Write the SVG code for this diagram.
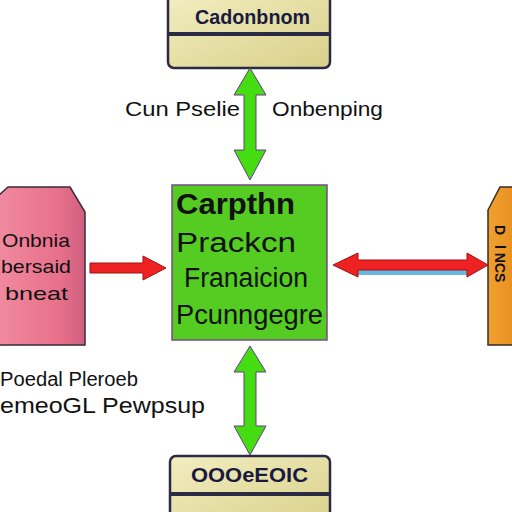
<svg xmlns="http://www.w3.org/2000/svg" width="512" height="512" viewBox="0 0 512 512">
<defs>
<linearGradient id="khaki" x1="0" y1="0" x2="1" y2="1">
<stop offset="0" stop-color="#f2eec0"/><stop offset="1" stop-color="#d8d08a"/>
</linearGradient>
<linearGradient id="pink" x1="0" y1="0" x2="1" y2="0">
<stop offset="0" stop-color="#f08aa0"/><stop offset="0.7" stop-color="#e8708a"/><stop offset="1" stop-color="#d06080"/>
</linearGradient>
<linearGradient id="orange" x1="0" y1="0" x2="1" y2="0">
<stop offset="0" stop-color="#f0a030"/><stop offset="1" stop-color="#e89020"/>
</linearGradient>
</defs>
<style>
text{font-family:"Liberation Sans",Arial,sans-serif;fill:#111}
.hdr{font-size:21px;fill:#1a1a40;font-weight:bold}
.lbl{font-size:20px}
.c1{font-size:29px;font-weight:bold}
.c2{font-size:27px}
.side{font-size:19px}
.khaki{fill:url(#khaki);stroke:#2a2a45;stroke-width:2.5}
.garrow{fill:#44dd11;stroke:#6a3a8a;stroke-width:1}
.rarrow{fill:#ee2222;stroke:#a01010;stroke-width:1}
</style>
<rect width="512" height="512" fill="#ffffff"/>

<g id="node-top">
<rect class="khaki" x="168" y="-6" width="162" height="74" rx="6"/>
<line x1="168" y1="34" x2="330" y2="34" stroke="#2a2a45" stroke-width="4"/>
<text class="hdr" x="195" y="24" textLength="115" lengthAdjust="spacingAndGlyphs">Cadonbnom</text>
</g>

<g id="node-center">
<rect x="172" y="185" width="155" height="155" fill="#55cc22" stroke="#7a4a8a" stroke-width="1.5"/>
<text class="c1" x="176" y="214" textLength="119" lengthAdjust="spacingAndGlyphs">Carpthn</text>
<text class="c2" x="176" y="252" textLength="120" lengthAdjust="spacingAndGlyphs">Prackcn</text>
<text class="c2" x="184" y="287" textLength="124" lengthAdjust="spacingAndGlyphs">Franaicion</text>
<text class="c2" x="176" y="324" textLength="147" lengthAdjust="spacingAndGlyphs">Pcunngegre</text>
</g>

<g id="node-left">
<path d="M-2,196 L8,187 L70,187 L85,212 L85,345 L-2,345 Z" fill="url(#pink)" stroke="#3a2a3a" stroke-width="1.5"/>
<text class="side" x="2" y="247" textLength="68" lengthAdjust="spacingAndGlyphs">Onbnia</text>
<text class="side" x="1" y="273" textLength="70" lengthAdjust="spacingAndGlyphs">bersaid</text>
<text class="side" x="5" y="300" textLength="63" lengthAdjust="spacingAndGlyphs">bneat</text>
</g>

<g id="node-right">
<path d="M488,210 L500,187 L514,187 L514,345 L488,345 Z" fill="url(#orange)" stroke="#3a2a20" stroke-width="1.5"/>
<text x="0" y="0" transform="translate(495,225) rotate(90)" style="font-size:14px;font-weight:bold">D</text>
<text x="0" y="0" transform="translate(495,245) rotate(90)" style="font-size:14px;font-weight:bold">l NCS</text>
</g>

<g id="node-bottom">
<rect class="khaki" x="170" y="456" width="160" height="70" rx="6"/>
<line x1="170" y1="494" x2="330" y2="494" stroke="#2a2a45" stroke-width="4"/>
<text class="hdr" x="191" y="482" textLength="117" lengthAdjust="spacingAndGlyphs">OOOeEOIC</text>
</g>

<g id="labels">
<text class="lbl" x="125" y="116" textLength="115" lengthAdjust="spacingAndGlyphs">Cun Pselie</text>
<text class="lbl" x="272" y="116" textLength="111" lengthAdjust="spacingAndGlyphs">Onbenping</text>
<text class="lbl" x="0" y="386" textLength="138" lengthAdjust="spacingAndGlyphs">Poedal Pleroeb</text>
<text class="lbl" x="0" y="413" style="font-size:22px" textLength="205" lengthAdjust="spacingAndGlyphs">emeoGL Pewpsup</text>
</g>

<g id="connectors">
<path class="garrow" d="M250,68 L266,95 L256,95 L256,150 L266,150 L250,180 L234,150 L244,150 L244,95 L234,95 Z"/>
<path class="garrow" d="M250,346 L266,372 L256,372 L256,426 L266,426 L250,455 L234,426 L244,426 L244,372 L234,372 Z"/>
<path class="rarrow" d="M90,263 L143,263 L143,256 L166,268 L143,280 L143,273 L90,273 Z"/>
<rect x="358" y="270" width="110" height="5" fill="#66b8e0"/>
<path class="rarrow" d="M333,265 L358,253 L358,260 L467,260 L467,253 L488,265 L467,277 L467,270 L358,270 L358,277 Z"/>
</g>
</svg>
